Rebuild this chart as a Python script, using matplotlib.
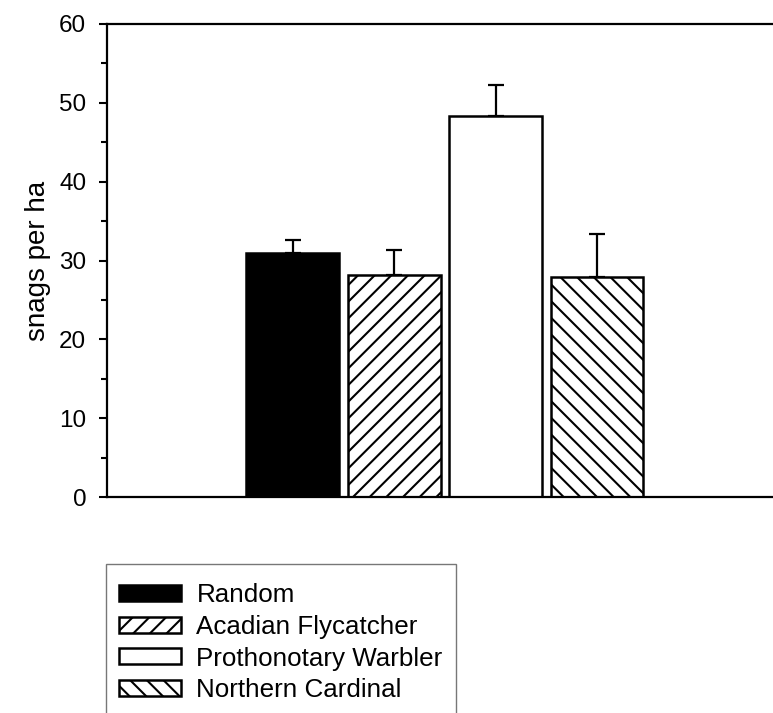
import matplotlib
matplotlib.use('Agg')
import matplotlib.pyplot as plt
from matplotlib.patches import Rectangle
from matplotlib.ticker import MultipleLocator

plt.rcParams['font.family'] = ['Liberation Sans', 'DejaVu Sans']
plt.rcParams['hatch.linewidth'] = 1.5

groups = ['Random', 'Acadian Flycatcher', 'Prothonotary Warbler', 'Northern Cardinal']
means = [31.0, 28.2, 48.3, 27.9]
errors = [1.6, 3.1, 3.9, 5.4]
faces = ['black', 'white', 'white', 'white']
hatches = ['', '//', '', '\\\\']
yticks = [0, 10, 20, 30, 40, 50, 60]

W, H = 773, 713
fig = plt.figure(figsize=(W / 100, H / 100), dpi=100)
ax = fig.add_axes([107 / W, 1 - 497 / H, 1 - 107 / W, (497 - 24) / H])

for i, g in enumerate(groups):
    ax.bar(i, means[i], width=0.916, color=faces[i], edgecolor='black',
           linewidth=1.8, hatch=hatches[i], label=g, zorder=2)
    ax.errorbar(i, means[i], yerr=[[0], [errors[i]]], fmt='none', ecolor='black',
                elinewidth=1.6, capsize=6, capthick=1.6, zorder=1)

ax.set_xlim(-1.828, 4.734)
ax.set_ylim(0, 60)
ax.set_yticks(yticks)
ax.yaxis.set_minor_locator(MultipleLocator(5))
ax.set_xticks([])
ax.tick_params(axis='y', which='major', length=6, width=1.5, labelsize=17.5,
               direction='out', pad=9)
ax.tick_params(axis='y', which='minor', length=4, width=1.5, direction='out')
for s in ['left', 'bottom', 'top']:
    ax.spines[s].set_linewidth(1.6)
ax.spines['right'].set_visible(False)
ax.set_ylabel('snags per ha', fontsize=20, labelpad=6)

# legend with separate gray frame
leg = fig.legend(loc='upper left', bbox_to_anchor=(119 / W, 1 - 583 / H),
                 frameon=False, fontsize=18.7, borderpad=0, handlelength=2.38,
                 handleheight=0.56, handletextpad=0.6, labelspacing=0.3,
                 borderaxespad=0)
fig.patches.append(Rectangle((106 / W, -10 / H), (456 - 106) / W, (H + 10 - 564) / H,
                             transform=fig.transFigure, fill=False,
                             edgecolor='#777777', linewidth=1.0))

fig.savefig('out.png', dpi=100)
